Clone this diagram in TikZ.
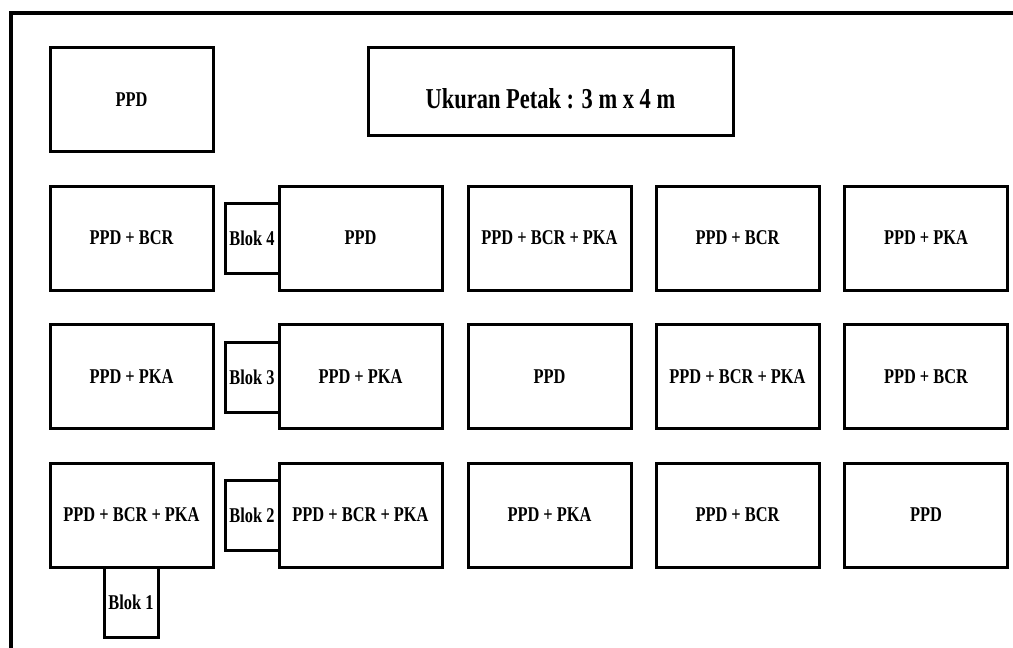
\documentclass[tikz,border=0pt]{standalone}
\usepackage{fontspec}
\setmainfont{Liberation Serif}
\newfontfamily\condfont{Liberation Serif}[FakeStretch=0.78]
\tikzset{
  plotbox/.style={draw=black, line width=3pt, fill=white, minimum width=163pt, minimum height=104pt, inner sep=0pt, font=\condfont\bfseries\fontsize{21}{24}\selectfont},
  blokbox/.style={draw=black, line width=3pt, fill=white, minimum width=54pt, minimum height=70pt, inner sep=0pt, font=\condfont\bfseries\fontsize{21}{24}\selectfont},
  titlebox/.style={draw=black, line width=3pt, minimum width=365pt, minimum height=88pt, inner sep=0pt},
  titletext/.style={font=\condfont\bfseries\fontsize{28.8}{32}\selectfont, inner sep=0pt, anchor=base},
  frameline/.style={line width=4pt, line cap=butt, line join=miter}
}
\begin{document}
\begin{tikzpicture}[x=1pt, y=-1pt]
\useasboundingbox (0,0) rectangle (1013,648);
% outer frame (top and left edges visible)
\coordinate (ftr) at (1013,13);
\coordinate (ftl) at (11,13);
\coordinate (fbl) at (11,648);
\draw[frameline] (ftr) -- (ftl) -- (fbl);

% top row
\node[plotbox] (p0) at (131.5,99.5) {PPD};
\node[titlebox] (title) at (550.5,91) {};
\node[titletext] (titlelbl) at (550.5,108) {Ukuran Petak : 3 m x 4 m};

% blok labels (drawn first, behind plots)
\node[blokbox] (b4) at (252,238) {Blok 4};
\node[blokbox] (b3) at (252,377) {Blok 3};
\node[blokbox] (b2) at (252,515) {Blok 2};
\node[blokbox] (b1) at (131,602) {Blok 1};

% row 1
\node[plotbox] (r1c1) at (131.5,238) {PPD + BCR};
\node[plotbox] (r1c2) at (360.5,238) {PPD};
\node[plotbox] (r1c3) at (549.5,238) {PPD + BCR + PKA};
\node[plotbox] (r1c4) at (737.5,238) {PPD + BCR};
\node[plotbox] (r1c5) at (926,238) {PPD + PKA};

% row 2
\node[plotbox] (r2c1) at (131.5,376.5) {PPD + PKA};
\node[plotbox] (r2c2) at (360.5,376.5) {PPD + PKA};
\node[plotbox] (r2c3) at (549.5,376.5) {PPD};
\node[plotbox] (r2c4) at (737.5,376.5) {PPD + BCR + PKA};
\node[plotbox] (r2c5) at (926,376.5) {PPD + BCR};

% row 3
\node[plotbox] (r3c1) at (131.5,515) {PPD + BCR + PKA};
\node[plotbox] (r3c2) at (360.5,515) {PPD + BCR + PKA};
\node[plotbox] (r3c3) at (549.5,515) {PPD + PKA};
\node[plotbox] (r3c4) at (737.5,515) {PPD + BCR};
\node[plotbox] (r3c5) at (926,515) {PPD};
\end{tikzpicture}
\end{document}
